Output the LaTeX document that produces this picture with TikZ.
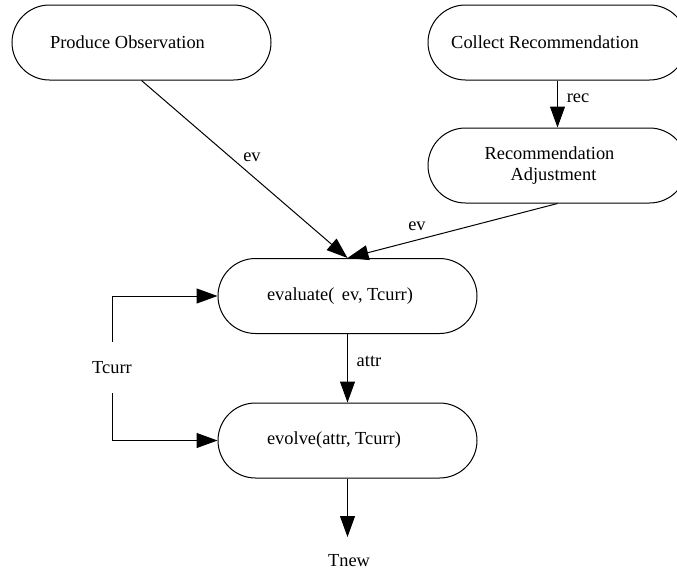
\documentclass[tikz,border=0pt]{standalone}
\usepackage{fontspec}
\setmainfont{Liberation Serif}
\usetikzlibrary{arrows.meta}
\begin{document}
\begin{tikzpicture}[x=1pt,y=-1pt,
  line width=1pt,
  >={Triangle[length=21pt,width=15pt]},
  proc/.style={draw, rounded corners=37.5pt, minimum width=259pt, minimum height=75pt,
    inner sep=0pt, font=\fontsize{18.4}{21}\selectfont, align=center},
  lbl/.style={inner sep=0pt, font=\fontsize{18.4}{21}\selectfont}
]
\useasboundingbox (0,0) rectangle (677,573);
\node[proc] (prod) at (141.5,42.5) {\hspace*{-28pt}Produce Observation};
\node[proc] (coll) at (557.5,42.5) {\hspace*{-25pt}Collect Recommendation};
\node[proc] (adj) at (557.5,165.5) {\hspace*{-16pt}Recommendation\\\hspace*{-8pt}Adjustment};
\node[proc] (eval) at (347.5,296) {\hspace*{-15pt}evaluate(\hspace{0.4em}ev, Tcurr)};
\node[proc] (evol) at (347.5,440.5) {\hspace*{-27pt}evolve(attr, Tcurr)};
\node[lbl, minimum height=50pt] (tcurr) at (112,367.5) {Tcurr};
\node[lbl] (tnew) at (349,561) {Tnew};
\coordinate (tend) at (347.5,537);

\draw[->] (coll) -- (adj);
\draw[->] (prod.south) -- (eval.north);
\draw[->] (adj.south) -- (eval.north);
\draw[->] (eval) -- (evol);
\draw[->] (tcurr.north) |- (eval.west);
\draw[->] (tcurr.south) |- (evol.west);
\draw[->] (evol) -- (tend);

\node[lbl] (lrec) at (578,98) {rec};
\node[lbl] (lev1) at (252,157) {ev};
\node[lbl] (lev2) at (417,226) {ev};
\node[lbl] (lattr) at (369,361) {attr};
\end{tikzpicture}
\end{document}
